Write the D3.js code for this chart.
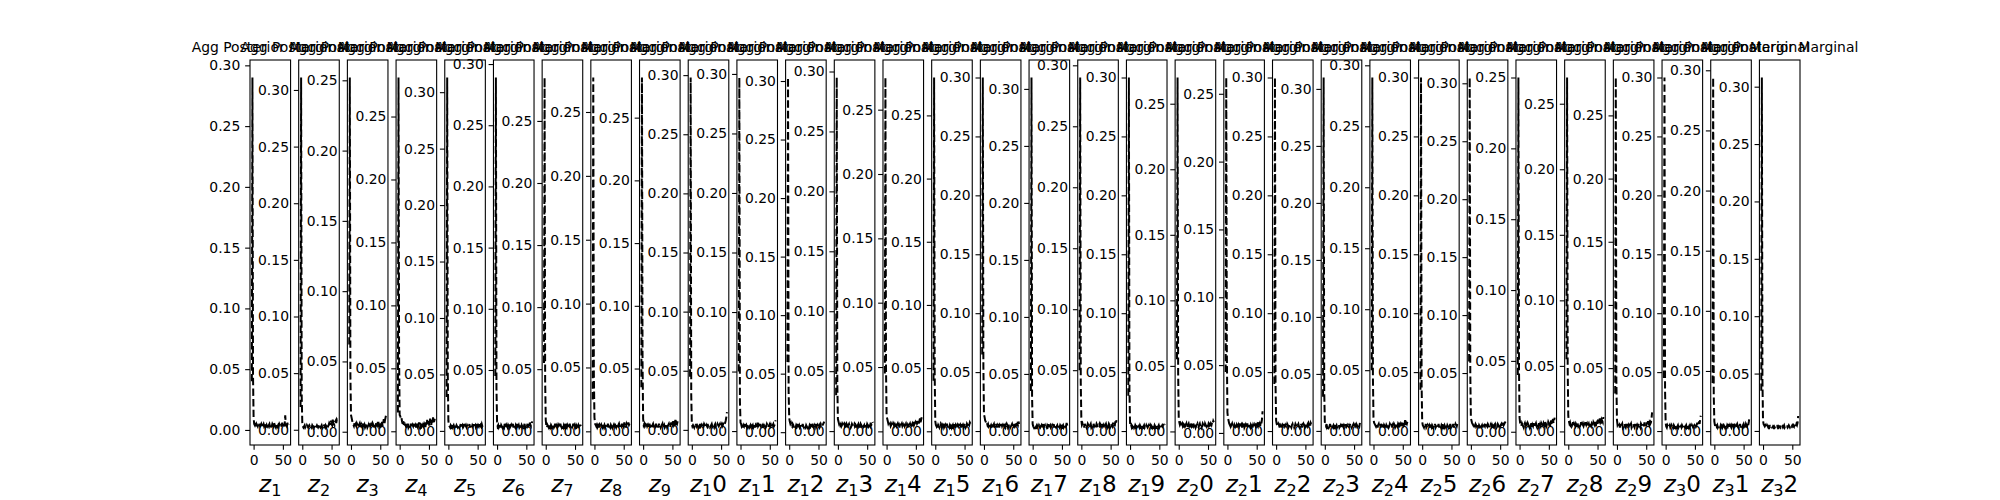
<!DOCTYPE html>
<html><head><meta charset="utf-8">
<script src="https://cdn.jsdelivr.net/npm/d3@7"></script>
<style>html,body{margin:0;padding:0;background:#fff;} svg{display:block;font-family:"DejaVu Sans";}</style>
</head><body>
<svg id="chart" width="2000" height="500"></svg>
<script>
// ---- data (values in thousandths) ----
const titleText = "Agg Posterior Marginal";
const xTickValues = [0, 50];
const xStart = -3;  // x value of the first point of every series
const z01=[40,290,45,10,5,4,6,3,5,4,3,5,6,4,3,4,5,3,2,4,5,3,4,6,3,4,2,5,3,4,5,3,4,2,3,5,4,3,6,4,3,2,4,5,3,4,3,5,4,2,3,4,6,3,5,4,3,12,5,4,3,6,4,5];
const z02=[20,311,30,6,3,2,3,4,2,3,2,4,3,2,3,4,3,2,3,2,4,3,3,2,4,3,2,3,4,3,2,3,5,3,2,3,4,2,3,5,4,3,2,4,3,5,4,3,4,6,5,4,8,5,4,9,6,5,4,7,8,6,9,8];
const z03=[62,252,40,12,10,8,6,5,4,6,3,5,4,6,5,3,4,5,6,4,3,5,4,3,6,4,5,3,4,6,5,3,4,5,3,6,4,5,3,4,6,5,4,3,5,4,6,3,5,4,7,5,4,6,3,5,7,4,6,9,5,8,10,12];
const z04=[15,281,60,13,12,10,11,8,6,9,5,7,4,6,3,5,4,6,3,4,5,3,6,4,3,5,4,6,3,4,5,3,6,4,3,5,7,4,3,5,4,6,3,5,4,6,5,3,7,4,9,5,8,6,4,10,7,5,9,6,11,7,8,10];
const z05=[30,313,50,9,5,4,3,5,4,6,3,4,5,3,4,6,3,5,4,3,4,5,3,4,6,3,4,5,3,4,6,3,5,4,3,5,4,3,4,6,3,5,4,3,5,4,6,3,4,5,3,4,6,3,5,4,6,3,5,4,6,4,5,7];
const z06=[45,289,35,8,4,5,3,4,6,3,5,4,3,5,4,3,6,4,3,5,4,3,5,4,6,3,4,5,3,4,6,3,5,4,3,5,4,6,3,4,5,3,4,6,3,5,4,3,5,4,6,3,4,5,4,6,3,5,4,7,5,4,6,8];
const z07=[55,285,40,9,4,3,5,4,3,6,4,3,5,4,3,4,5,3,4,6,3,4,5,3,4,5,3,4,6,4,3,5,4,3,5,4,3,6,4,3,5,4,3,4,6,3,5,4,3,4,6,3,5,4,3,5,4,6,3,5,4,6,5,4];
const z08=[25,277,45,11,6,5,4,5,3,4,6,3,5,4,3,5,4,3,6,4,5,3,4,5,3,4,6,3,5,4,3,5,4,6,3,4,5,3,6,4,3,5,4,3,5,6,4,3,5,4,6,3,5,4,7,4,5,3,6,5,4,7,5,6];
const z09=[35,282,55,10,5,6,4,5,3,6,4,5,3,4,6,3,5,4,3,5,6,4,3,5,4,6,3,4,5,3,6,4,5,3,4,5,6,3,4,5,3,4,6,5,3,4,5,6,4,3,5,7,4,6,5,8,4,6,9,5,7,6,8,10];
const z10=[45,298,30,5,3,4,3,2,4,3,5,3,4,3,2,4,3,5,3,4,2,3,4,3,5,4,3,2,4,3,5,3,4,3,2,3,4,5,3,4,3,2,4,5,3,4,3,5,4,3,4,5,3,4,5,3,4,6,4,5,6,8,11,15];
const z11=[50,297,25,7,6,4,5,3,5,4,6,3,4,5,3,4,6,5,3,4,5,3,6,4,5,3,4,6,3,5,4,3,7,4,5,3,4,6,3,5,4,5,3,6,4,5,3,4,6,5,3,4,5,6,4,5,3,4,5,6,4,5,7,9];
const z12=[60,303,35,12,9,7,8,6,5,7,6,4,6,5,4,6,5,7,4,5,6,4,5,6,4,5,7,5,4,6,5,4,6,5,4,6,5,4,6,5,7,4,5,6,5,4,6,5,7,4,5,6,4,5,6,4,5,7,6,5,6,7,8,9];
const z13=[30,295,40,10,8,6,7,5,6,4,5,6,4,5,6,4,5,3,6,5,4,5,6,4,5,3,4,6,5,4,5,6,4,5,3,6,4,5,6,4,5,3,6,5,4,5,6,4,5,3,6,5,4,6,5,4,6,5,4,7,5,6,8,7];
const z14=[45,275,50,12,10,8,6,7,5,6,4,5,6,4,5,6,4,5,3,6,4,5,6,4,5,3,6,4,5,6,4,5,3,6,4,5,6,4,5,3,6,4,5,6,4,7,5,6,4,8,5,6,7,5,8,6,7,9,6,8,10,7,9,11];
const z15=[40,280,45,8,5,4,6,3,5,4,3,5,6,4,3,5,4,6,3,4,5,3,4,6,3,5,4,3,5,4,6,3,4,5,3,4,6,3,5,4,3,5,4,6,3,4,5,3,6,4,5,3,4,6,5,3,4,6,5,4,6,5,7,6];
const z16=[65,300,55,14,12,9,8,6,7,5,6,4,5,6,4,5,3,6,4,5,6,3,5,4,6,3,5,4,6,3,5,4,3,6,4,5,3,6,4,5,3,4,6,5,3,4,6,5,3,4,5,6,4,5,3,6,4,5,7,4,6,5,8,6];
const z17=[35,310,30,6,4,3,5,4,3,4,5,3,4,3,5,4,3,4,5,3,4,6,3,4,5,3,4,3,5,4,6,3,4,5,3,4,5,3,4,6,3,5,4,3,4,5,3,6,4,3,5,4,3,6,4,5,3,4,6,5,4,7,5,8];
const z18=[50,290,40,9,5,6,4,5,3,6,4,5,3,4,6,5,3,4,5,6,3,4,5,3,6,4,5,3,4,6,5,3,4,5,6,3,5,4,3,6,4,5,3,4,5,6,4,3,5,4,6,5,3,4,6,5,4,7,5,6,4,8,6,9];
const z19=[30,300,35,7,4,5,3,4,3,5,4,3,5,4,3,4,5,3,4,3,5,4,3,4,5,3,4,5,3,4,3,5,4,3,4,5,3,4,5,3,4,3,5,4,3,5,4,3,4,5,3,4,5,3,4,5,3,4,5,4,6,4,5,6];
const z20=[55,270,45,10,7,5,6,4,5,6,4,5,3,6,4,5,6,3,4,5,6,4,5,3,6,4,5,3,6,4,5,6,3,4,5,6,4,3,5,6,4,5,3,4,6,5,4,3,6,5,4,6,5,4,6,5,7,4,6,5,7,6,8,7];
const z21=[45,262,60,15,11,9,7,6,8,5,6,7,5,6,4,6,5,7,4,6,5,4,6,5,7,4,5,6,4,6,5,7,4,5,6,4,5,7,5,4,6,5,4,6,5,7,4,6,5,4,6,5,7,4,6,5,8,6,7,5,9,7,10,16];
const z22=[40,300,40,9,6,5,4,6,5,3,5,4,6,3,5,4,3,6,4,5,3,4,6,5,3,4,6,5,4,3,5,6,4,5,3,4,6,5,3,4,5,6,4,3,5,4,6,3,5,4,6,5,3,4,6,5,4,6,7,5,6,4,7,6];
const z23=[30,310,35,8,5,4,6,3,4,5,3,4,6,4,3,5,4,3,5,4,6,3,4,5,3,4,5,6,3,4,5,3,4,6,4,3,5,4,3,6,4,5,3,4,5,3,6,4,5,3,4,5,6,4,3,5,4,6,5,4,6,5,4,7];
const z24=[50,290,45,10,7,6,5,4,6,5,3,5,6,4,5,3,6,4,5,6,3,5,4,6,3,5,4,6,5,3,4,6,5,4,6,3,5,4,6,5,3,4,6,5,4,6,5,3,7,4,6,5,7,4,8,5,6,9,5,7,6,8,9,10];
const z25=[35,300,40,8,5,4,3,5,4,6,3,4,5,3,4,5,3,6,4,3,5,4,3,5,4,6,3,4,5,3,4,6,3,5,4,3,5,4,6,3,4,5,3,4,6,3,5,4,3,5,4,6,3,4,5,4,6,3,5,4,6,5,4,6];
const z26=[60,305,50,11,9,7,6,5,7,5,4,6,5,4,6,5,3,5,4,6,5,4,5,3,6,4,5,4,6,3,5,4,6,5,4,3,5,6,4,5,3,6,4,5,4,6,5,3,4,6,5,4,6,3,5,6,4,5,7,5,6,7,8,9];
const z27=[40,250,45,10,6,5,4,6,5,4,3,5,6,4,5,3,4,6,5,4,3,5,4,6,3,5,4,6,3,4,5,6,4,3,5,4,6,3,5,4,6,5,3,4,6,5,4,7,5,4,6,5,7,6,4,7,6,8,5,7,9,6,8,10];
const z28=[55,270,50,12,8,6,7,5,6,4,5,7,4,6,5,4,6,5,3,6,4,5,6,4,5,7,4,6,5,4,6,5,4,7,5,6,4,5,6,4,7,5,4,6,5,4,7,6,5,8,4,6,7,5,9,6,8,7,10,6,9,8,7,11];
const z29=[30,280,40,9,5,6,4,5,3,6,4,5,6,3,4,5,6,4,3,5,6,4,5,3,6,4,5,6,3,4,5,6,4,3,5,6,4,5,3,4,6,5,4,3,6,5,4,5,6,4,7,5,6,4,7,5,8,6,5,9,6,7,10,15];
const z30=[45,300,35,7,4,3,5,4,3,4,5,3,4,5,3,4,3,5,4,3,5,4,3,4,5,3,4,5,3,4,3,5,4,3,5,4,3,4,5,3,4,5,3,4,3,5,4,3,5,4,3,4,5,4,6,4,5,7,5,6,8,6,10,13];
const z31=[40,294,30,8,5,4,6,4,5,3,4,5,4,3,5,4,6,3,4,5,4,3,5,4,3,5,4,6,4,3,5,4,3,5,4,6,3,4,5,4,3,5,6,4,3,5,4,6,3,5,4,3,5,6,4,5,3,6,5,4,7,5,8,12];
const z32=[35,308,45,9,6,5,4,5,4,3,5,4,3,4,3,4,3,4,3,3,4,3,4,3,4,3,3,4,3,4,3,4,4,3,4,3,4,3,4,5,3,4,3,4,4,3,4,5,4,3,4,5,4,5,4,5,4,6,5,4,6,5,7,13];
const seriesList = [z01,z02,z03,z04,z05,z06,z07,z08,z09,z10,z11,z12,z13,z14,z15,z16,z17,z18,z19,z20,z21,z22,z23,z24,z25,z26,z27,z28,z29,z30,z31,z32];
const panelNumbers = seriesList.map((_, i) => String(i + 1));

// ---- layout ----
const L = 250, R = 1800, T = 60, B = 445, wspace = 0.2;
const n = seriesList.length;
const axW = (R - L) / (n + (n - 1) * wspace);
const gap = axW * wspace;
const tickLen = 4.86, tickPad = 4.86;
const svg = d3.select("#chart");

function pad(ext) { const r = ext[1] - ext[0]; return [ext[0] - 0.05 * r, ext[1] + 0.05 * r]; }

seriesList.forEach((arr, i) => {
  const x0 = L + i * (axW + gap);
  const pts = arr.map((v, j) => ({x: xStart + j, y: v / 1000}));
  const xs = d3.scaleLinear().domain(pad(d3.extent(pts, d => d.x))).range([x0, x0 + axW]);
  const yd = pad(d3.extent(pts, d => d.y));
  const ys = d3.scaleLinear().domain(yd).range([B, T]);
  const yTicks = d3.range(0, 8).map(k => k * 0.05).filter(t => t >= yd[0] - 1e-9 && t <= yd[1] + 1e-9);
  const g = svg.append("g");

  g.append("path").datum(pts)
    .attr("d", d3.line().x(d => xs(d.x)).y(d => ys(d.y)))
    .attr("fill", "none").attr("stroke", "#000").attr("stroke-width", 2.0)
    .attr("stroke-dasharray", "7.4,3.2");

  const ya = g.append("g").attr("transform", `translate(${x0},0)`)
    .call(d3.axisLeft(ys).tickValues(yTicks).tickFormat(d3.format(".2f")).tickSize(tickLen).tickPadding(tickPad));
  const xa = g.append("g").attr("transform", `translate(0,${B})`)
    .call(d3.axisBottom(xs).tickValues(xTickValues).tickFormat(d3.format("d")).tickSize(tickLen).tickPadding(tickPad));
  [ya, xa].forEach(a => {
    a.select(".domain").remove();
    a.selectAll("line").attr("stroke", "#000").attr("stroke-width", 1.1);
    a.selectAll("text").attr("fill", "#000").style("font-family", "DejaVu Sans").style("font-size", "13.9px");
  });
  xa.selectAll("text").attr("dy", "0.76em");

  g.append("rect").attr("x", x0).attr("y", T).attr("width", axW).attr("height", B - T)
    .attr("fill", "none").attr("stroke", "#000").attr("stroke-width", 1.1);

  g.append("text").attr("x", x0 + axW / 2).attr("y", T - 8.3)
    .attr("text-anchor", "middle").style("font-size", "13.9px").attr("fill", "#000").text(titleText);

  const s = panelNumbers[i];
  const lab = g.append("text").attr("x", x0 + axW / 2).attr("y", 492)
    .attr("text-anchor", "middle").style("font-size", "23px").attr("fill", "#000");
  lab.append("tspan").style("font-style", "italic").text("z");
  lab.append("tspan").style("font-size", "16.1px").attr("dy", 3.8).text(s[0]);
  if (s.length > 1) lab.append("tspan").attr("dy", -3.8).text(s.slice(1));
});
</script>
</body></html>
